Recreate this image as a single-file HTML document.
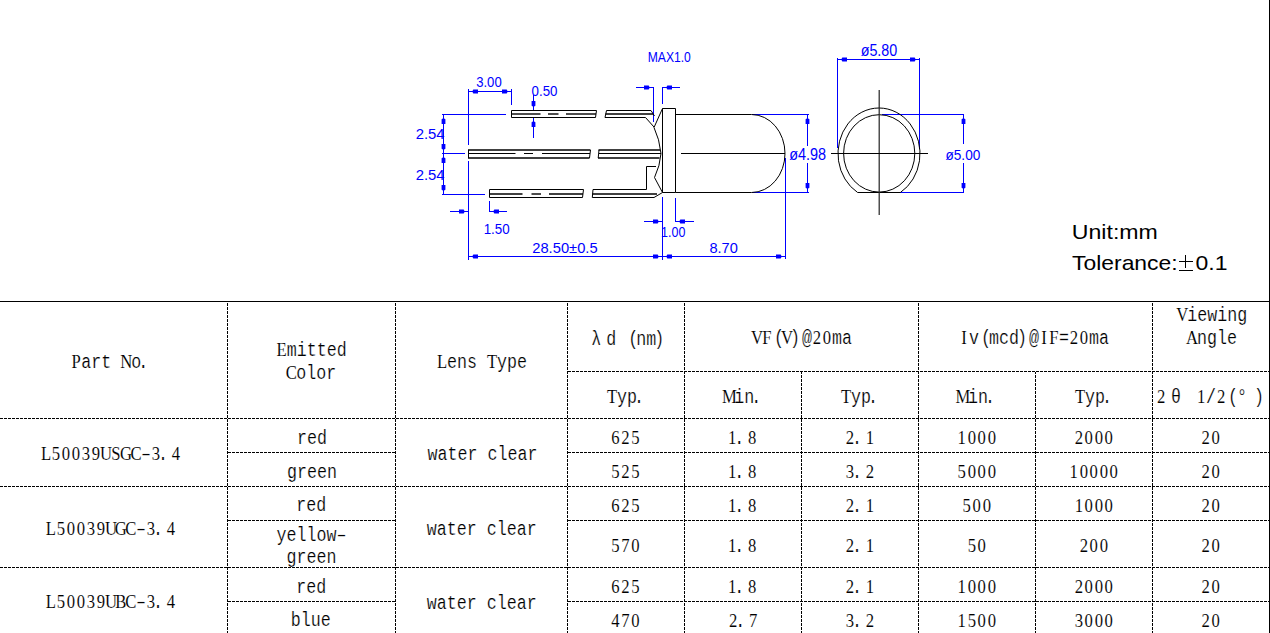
<!DOCTYPE html>
<html><head><meta charset="utf-8"><style>
html,body{margin:0;padding:0;background:#fff;width:1270px;height:633px;overflow:hidden}
svg{display:block}
</style></head><body>
<svg width="1270" height="633" viewBox="0 0 1270 633">
<line x1="0" y1="301.5" x2="1270" y2="301.5" stroke="#000" stroke-width="1" shape-rendering="crispEdges"/><line x1="1269.5" y1="0" x2="1269.5" y2="633" stroke="#000" stroke-width="1" shape-rendering="crispEdges"/><line x1="567" y1="371.5" x2="1269" y2="371.5" stroke="#000" stroke-width="1" stroke-dasharray="3 1" stroke-dashoffset="3" shape-rendering="crispEdges"/><line x1="0" y1="418.5" x2="1269" y2="418.5" stroke="#000" stroke-width="1" stroke-dasharray="3 1" stroke-dashoffset="0" shape-rendering="crispEdges"/><line x1="0" y1="486.5" x2="1269" y2="486.5" stroke="#000" stroke-width="1" stroke-dasharray="3 1" stroke-dashoffset="0" shape-rendering="crispEdges"/><line x1="0" y1="567.5" x2="1269" y2="567.5" stroke="#000" stroke-width="1" stroke-dasharray="3 1" stroke-dashoffset="0" shape-rendering="crispEdges"/><line x1="227" y1="452.5" x2="395" y2="452.5" stroke="#000" stroke-width="1" stroke-dasharray="3 1" stroke-dashoffset="3" shape-rendering="crispEdges"/><line x1="567" y1="452.5" x2="1269" y2="452.5" stroke="#000" stroke-width="1" stroke-dasharray="3 1" stroke-dashoffset="3" shape-rendering="crispEdges"/><line x1="227" y1="520.5" x2="395" y2="520.5" stroke="#000" stroke-width="1" stroke-dasharray="3 1" stroke-dashoffset="3" shape-rendering="crispEdges"/><line x1="567" y1="520.5" x2="1269" y2="520.5" stroke="#000" stroke-width="1" stroke-dasharray="3 1" stroke-dashoffset="3" shape-rendering="crispEdges"/><line x1="227" y1="601.5" x2="395" y2="601.5" stroke="#000" stroke-width="1" stroke-dasharray="3 1" stroke-dashoffset="3" shape-rendering="crispEdges"/><line x1="567" y1="601.5" x2="1269" y2="601.5" stroke="#000" stroke-width="1" stroke-dasharray="3 1" stroke-dashoffset="3" shape-rendering="crispEdges"/><line x1="227.5" y1="303" x2="227.5" y2="633" stroke="#000" stroke-width="1" stroke-dasharray="3 1" stroke-dashoffset="0" shape-rendering="crispEdges"/><line x1="395.5" y1="303" x2="395.5" y2="633" stroke="#000" stroke-width="1" stroke-dasharray="3 1" stroke-dashoffset="0" shape-rendering="crispEdges"/><line x1="567.5" y1="303" x2="567.5" y2="633" stroke="#000" stroke-width="1" stroke-dasharray="3 1" stroke-dashoffset="0" shape-rendering="crispEdges"/><line x1="684.5" y1="303" x2="684.5" y2="633" stroke="#000" stroke-width="1" stroke-dasharray="3 1" stroke-dashoffset="0" shape-rendering="crispEdges"/><line x1="801.5" y1="372" x2="801.5" y2="633" stroke="#000" stroke-width="1" stroke-dasharray="3 1" stroke-dashoffset="1" shape-rendering="crispEdges"/><line x1="918.5" y1="303" x2="918.5" y2="633" stroke="#000" stroke-width="1" stroke-dasharray="3 1" stroke-dashoffset="0" shape-rendering="crispEdges"/><line x1="1035.5" y1="372" x2="1035.5" y2="633" stroke="#000" stroke-width="1" stroke-dasharray="3 1" stroke-dashoffset="1" shape-rendering="crispEdges"/><line x1="1152.5" y1="303" x2="1152.5" y2="633" stroke="#000" stroke-width="1" stroke-dasharray="3 1" stroke-dashoffset="0" shape-rendering="crispEdges"/><line x1="468.5" y1="89" x2="468.5" y2="145" stroke="#0000ff" stroke-width="1"/><line x1="468.5" y1="161" x2="468.5" y2="260" stroke="#0000ff" stroke-width="1"/><line x1="468" y1="91.5" x2="511" y2="91.5" stroke="#0000ff" stroke-width="1"/><polygon points="468.5,91.5 472.5,92.1 473.3,93.4 478.0,93.4 478.0,89.6 473.3,89.6 472.5,90.9" fill="#0000ff"/><polygon points="511.5,91.5 507.5,92.1 506.7,93.4 502.0,93.4 502.0,89.6 506.7,89.6 507.5,90.9" fill="#0000ff"/><line x1="511.5" y1="89" x2="511.5" y2="105" stroke="#0000ff" stroke-width="1"/><line x1="442" y1="114.5" x2="506" y2="114.5" stroke="#0000ff" stroke-width="1"/><line x1="442" y1="153.5" x2="465" y2="153.5" stroke="#0000ff" stroke-width="1"/><line x1="442" y1="194.5" x2="485" y2="194.5" stroke="#0000ff" stroke-width="1"/><line x1="443.5" y1="114" x2="443.5" y2="194" stroke="#0000ff" stroke-width="1"/><polygon points="443.5,114.5 444.1,118.5 445.4,119.3 445.4,124.0 441.6,124.0 441.6,119.3 442.9,118.5" fill="#0000ff"/><polygon points="443.5,153.5 444.1,149.5 445.4,148.7 445.4,144.0 441.6,144.0 441.6,148.7 442.9,149.5" fill="#0000ff"/><polygon points="443.5,153.5 444.1,157.5 445.4,158.3 445.4,163.0 441.6,163.0 441.6,158.3 442.9,157.5" fill="#0000ff"/><polygon points="443.5,194.5 444.1,190.5 445.4,189.7 445.4,185.0 441.6,185.0 441.6,189.7 442.9,190.5" fill="#0000ff"/><line x1="450" y1="211.5" x2="468" y2="211.5" stroke="#0000ff" stroke-width="1"/><polygon points="468.5,211.5 464.5,212.1 463.7,213.4 459.0,213.4 459.0,209.6 463.7,209.6 464.5,210.9" fill="#0000ff"/><line x1="489.5" y1="201" x2="489.5" y2="212" stroke="#0000ff" stroke-width="1"/><line x1="489" y1="211.5" x2="507" y2="211.5" stroke="#0000ff" stroke-width="1"/><polygon points="489.5,211.5 493.5,212.1 494.3,213.4 499.0,213.4 499.0,209.6 494.3,209.6 493.5,210.9" fill="#0000ff"/><line x1="533.5" y1="95" x2="533.5" y2="110.5" stroke="#0000ff" stroke-width="1"/><polygon points="533.5,110.5 534.1,106.5 535.4,105.7 535.4,101.0 531.6,101.0 531.6,105.7 532.9,106.5" fill="#0000ff"/><line x1="533.5" y1="117.5" x2="533.5" y2="138" stroke="#0000ff" stroke-width="1"/><polygon points="533.5,117.5 534.1,121.5 535.4,122.3 535.4,127.0 531.6,127.0 531.6,122.3 532.9,121.5" fill="#0000ff"/><line x1="529" y1="110.5" x2="534" y2="110.5" stroke="#0000ff" stroke-width="1"/><line x1="529" y1="117.5" x2="534" y2="117.5" stroke="#0000ff" stroke-width="1"/><line x1="468" y1="256.5" x2="785.5" y2="256.5" stroke="#0000ff" stroke-width="1"/><polygon points="468.5,256.5 472.5,257.1 473.3,258.4 478.0,258.4 478.0,254.6 473.3,254.6 472.5,255.9" fill="#0000ff"/><polygon points="662.5,256.5 658.5,257.1 657.7,258.4 653.0,258.4 653.0,254.6 657.7,254.6 658.5,255.9" fill="#0000ff"/><polygon points="662.5,256.5 666.5,257.1 667.3,258.4 672.0,258.4 672.0,254.6 667.3,254.6 666.5,255.9" fill="#0000ff"/><polygon points="785.5,256.5 781.5,257.1 780.7,258.4 776.0,258.4 776.0,254.6 780.7,254.6 781.5,255.9" fill="#0000ff"/><line x1="636" y1="87.5" x2="653.5" y2="87.5" stroke="#0000ff" stroke-width="1"/><polygon points="653.5,87.5 649.5,88.1 648.7,89.4 644.0,89.4 644.0,85.6 648.7,85.6 649.5,86.9" fill="#0000ff"/><line x1="662.5" y1="87.5" x2="680" y2="87.5" stroke="#0000ff" stroke-width="1"/><polygon points="662.5,87.5 666.5,88.1 667.3,89.4 672.0,89.4 672.0,85.6 667.3,85.6 666.5,86.9" fill="#0000ff"/><line x1="653.5" y1="87" x2="653.5" y2="122" stroke="#0000ff" stroke-width="1"/><line x1="662.5" y1="87" x2="662.5" y2="104" stroke="#0000ff" stroke-width="1"/><line x1="644" y1="221.5" x2="662.5" y2="221.5" stroke="#0000ff" stroke-width="1"/><polygon points="662.5,221.5 658.5,222.1 657.7,223.4 653.0,223.4 653.0,219.6 657.7,219.6 658.5,220.9" fill="#0000ff"/><line x1="675.5" y1="221.5" x2="694" y2="221.5" stroke="#0000ff" stroke-width="1"/><polygon points="675.5,221.5 679.5,222.1 680.3,223.4 685.0,223.4 685.0,219.6 680.3,219.6 679.5,220.9" fill="#0000ff"/><line x1="662.5" y1="197" x2="662.5" y2="260" stroke="#0000ff" stroke-width="1"/><line x1="675.5" y1="198" x2="675.5" y2="222" stroke="#0000ff" stroke-width="1"/><line x1="785.5" y1="158" x2="785.5" y2="259" stroke="#0000ff" stroke-width="1"/><line x1="752" y1="114.5" x2="809" y2="114.5" stroke="#0000ff" stroke-width="1"/><line x1="752" y1="192.5" x2="809" y2="192.5" stroke="#0000ff" stroke-width="1"/><line x1="807.5" y1="114.5" x2="807.5" y2="146" stroke="#0000ff" stroke-width="1"/><line x1="807.5" y1="163" x2="807.5" y2="192.5" stroke="#0000ff" stroke-width="1"/><polygon points="807.5,114.5 808.1,118.5 809.4,119.3 809.4,124.0 805.6,124.0 805.6,119.3 806.9,118.5" fill="#0000ff"/><polygon points="807.5,192.5 808.1,188.5 809.4,187.7 809.4,183.0 805.6,183.0 805.6,187.7 806.9,188.5" fill="#0000ff"/><line x1="837.5" y1="59.5" x2="919.5" y2="59.5" stroke="#0000ff" stroke-width="1"/><polygon points="837.5,59.5 841.5,60.1 842.3,61.4 847.0,61.4 847.0,57.6 842.3,57.6 841.5,58.9" fill="#0000ff"/><polygon points="919.5,59.5 915.5,60.1 914.7,61.4 910.0,61.4 910.0,57.6 914.7,57.6 915.5,58.9" fill="#0000ff"/><line x1="837.5" y1="58" x2="837.5" y2="148" stroke="#0000ff" stroke-width="1"/><line x1="919.5" y1="58" x2="919.5" y2="149" stroke="#0000ff" stroke-width="1"/><line x1="882" y1="114.5" x2="964" y2="114.5" stroke="#0000ff" stroke-width="1"/><line x1="882" y1="192.5" x2="964" y2="192.5" stroke="#0000ff" stroke-width="1"/><line x1="963.5" y1="114.5" x2="963.5" y2="144" stroke="#0000ff" stroke-width="1"/><line x1="963.5" y1="163" x2="963.5" y2="192.5" stroke="#0000ff" stroke-width="1"/><polygon points="963.5,114.5 964.1,118.5 965.4,119.3 965.4,124.0 961.6,124.0 961.6,119.3 962.9,118.5" fill="#0000ff"/><polygon points="963.5,192.5 964.1,188.5 965.4,187.7 965.4,183.0 961.6,183.0 961.6,187.7 962.9,188.5" fill="#0000ff"/><path d="M511.5,110.5 H596.5 L595.5,117.5 H511.5 Z" stroke="#000" stroke-width="1" fill="none"/><line x1="511" y1="114" x2="540.5" y2="114" stroke="#000" stroke-width="1.4"/><line x1="548" y1="114" x2="558.5" y2="114" stroke="#000" stroke-width="1.4"/><line x1="566" y1="114" x2="596" y2="114" stroke="#000" stroke-width="1.4"/><line x1="468.0" y1="150" x2="590.5" y2="150" stroke="#000" stroke-width="1.4"/><line x1="468.0" y1="158" x2="589.5" y2="158" stroke="#000" stroke-width="1.4"/><path d="M468.5,150 L468.5,158 M590.5,150 L589.5,158" stroke="#000" stroke-width="1" fill="none"/><line x1="468" y1="153.5" x2="515.5" y2="153.5" stroke="#000" stroke-width="1"/><line x1="524" y1="153.5" x2="533" y2="153.5" stroke="#000" stroke-width="1"/><line x1="542" y1="153.5" x2="590" y2="153.5" stroke="#000" stroke-width="1"/><path d="M489.5,189.5 H583.5 L582.5,197.5 H489.5 Z" stroke="#000" stroke-width="1" fill="none"/><line x1="489" y1="194" x2="522.5" y2="194" stroke="#000" stroke-width="1.4"/><line x1="531.5" y1="194" x2="541" y2="194" stroke="#000" stroke-width="1.4"/><line x1="549" y1="194" x2="583" y2="194" stroke="#000" stroke-width="1.4"/><path d="M606.5,110.5 H651 L654.5,116" stroke="#000" stroke-width="1" fill="none"/><path d="M605,117.5 H645.5 L654,127" stroke="#000" stroke-width="1" fill="none"/><path d="M606.5,110.5 L605,117.5" stroke="#000" stroke-width="1" fill="none"/><line x1="605.5" y1="114" x2="653" y2="114" stroke="#000" stroke-width="1.4"/><line x1="598.5" y1="150" x2="660" y2="150" stroke="#000" stroke-width="1.4"/><line x1="598" y1="158" x2="659.5" y2="158" stroke="#000" stroke-width="1.4"/><path d="M599,150 L598.2,158" stroke="#000" stroke-width="1" fill="none"/><line x1="599" y1="153.5" x2="661" y2="153.5" stroke="#000" stroke-width="1"/><path d="M593,189.5 H646.5 V166.5 H656 M592.3,197.5 H654 L662.5,192.5 M593,189.5 L592.3,197.5" stroke="#000" stroke-width="1" fill="none"/><line x1="592.5" y1="194" x2="657" y2="194" stroke="#000" stroke-width="1.4"/><path d="M662.5,108.5 L654,127.5 Q659.5,139 661,153.5 Q660,166 654.5,177.5 L662.5,192.5" stroke="#000" stroke-width="1" fill="none"/><path d="M662.5,108.5 H675.5 V192.5 H662.5 Z" stroke="#000" stroke-width="1" fill="none"/><path d="M675.5,114.5 H751.6 A33.5,39 0 0 1 785,153.5 A33.5,39 0 0 1 751.6,192.5 H675.5" stroke="#000" stroke-width="1" fill="none"/><line x1="681" y1="153.5" x2="785" y2="153.5" stroke="#000" stroke-width="1"/><path d="M857.61,192.50 A41,45.6 0 1 1 900.39,192.50 Z" stroke="#000" stroke-width="1" fill="none"/><ellipse cx="879.2" cy="153.4" rx="35.6" ry="38.7" stroke="#000" fill="none" stroke-width="1"/><line x1="879.2" y1="90" x2="879.2" y2="215" stroke="#222" stroke-width="1.2"/><line x1="831" y1="153.5" x2="928" y2="153.5" stroke="#000" stroke-width="1"/><text transform="scale(0.8547,1)" y="368.00" font-family="Liberation Mono" font-size="19.50" fill="#000" stroke="#fff" stroke-width="0.2"><tspan x="83.73" font-family="Liberation Serif" stroke="#fff" stroke-width="0.1">P</tspan><tspan x="95.00">a</tspan><tspan x="106.70">r</tspan><tspan x="118.40">t</tspan><tspan x="140.61" font-family="Liberation Serif" stroke="#fff" stroke-width="0.1">N</tspan><tspan x="153.50">o</tspan><tspan x="161.69">.</tspan></text><text transform="scale(0.8547,1)" y="355.80" font-family="Liberation Mono" font-size="19.50" fill="#000" stroke="#fff" stroke-width="0.2"><tspan x="323.63" font-family="Liberation Serif" stroke="#fff" stroke-width="0.1">E</tspan><tspan x="335.44">m</tspan><tspan x="347.14">i</tspan><tspan x="358.84">t</tspan><tspan x="370.54">t</tspan><tspan x="382.24">e</tspan><tspan x="393.94">d</tspan></text><text transform="scale(0.8547,1)" y="378.80" font-family="Liberation Mono" font-size="19.50" fill="#000" stroke="#fff" stroke-width="0.2"><tspan x="334.20" font-family="Liberation Serif" stroke="#fff" stroke-width="0.1">C</tspan><tspan x="346.55">o</tspan><tspan x="358.25">l</tspan><tspan x="369.95">o</tspan><tspan x="381.65">r</tspan></text><text transform="scale(0.8547,1)" y="367.90" font-family="Liberation Mono" font-size="19.50" fill="#000" stroke="#fff" stroke-width="0.2"><tspan x="511.18" font-family="Liberation Serif" stroke="#fff" stroke-width="0.1">L</tspan><tspan x="522.99">e</tspan><tspan x="534.69">n</tspan><tspan x="546.39">s</tspan><tspan x="569.68" font-family="Liberation Serif" stroke="#fff" stroke-width="0.1">T</tspan><tspan x="581.49">y</tspan><tspan x="593.19">p</tspan><tspan x="604.89">e</tspan></text><text transform="scale(0.8547,1)" y="345.20" font-family="Liberation Mono" font-size="19.50" fill="#000" stroke="#fff" stroke-width="0.2"><tspan x="691.70">λ</tspan><tspan x="709.25">d</tspan><tspan x="734.99">(</tspan><tspan x="744.35">n</tspan><tspan x="756.05">m</tspan><tspan x="765.41">)</tspan></text><text transform="scale(0.8547,1)" y="344.10" font-family="Liberation Mono" font-size="19.50" fill="#000" stroke="#fff" stroke-width="0.2"><tspan x="878.65" font-family="Liberation Serif" stroke="#fff" stroke-width="0.1">V</tspan><tspan x="891.97" font-family="Liberation Serif" stroke="#fff" stroke-width="0.1">F</tspan><tspan x="905.58">(</tspan><tspan x="913.75" font-family="Liberation Serif" stroke="#fff" stroke-width="0.1">V</tspan><tspan x="924.30">)</tspan><tspan x="938.34">@</tspan><tspan x="951.01" font-family="Liberation Serif" stroke="#fff" stroke-width="0.1">2</tspan><tspan x="962.71" font-family="Liberation Serif" stroke="#fff" stroke-width="0.1">0</tspan><tspan x="973.44">m</tspan><tspan x="985.14">a</tspan></text><text transform="scale(0.8547,1)" y="344.20" font-family="Liberation Mono" font-size="19.50" fill="#000" stroke="#fff" stroke-width="0.2"><tspan x="1124.63" font-family="Liberation Serif" stroke="#fff" stroke-width="0.1">I</tspan><tspan x="1133.73">v</tspan><tspan x="1147.77">(</tspan><tspan x="1157.13">m</tspan><tspan x="1168.83">c</tspan><tspan x="1180.53">d</tspan><tspan x="1189.89">)</tspan><tspan x="1203.93">@</tspan><tspan x="1218.23" font-family="Liberation Serif" stroke="#fff" stroke-width="0.1">I</tspan><tspan x="1227.76" font-family="Liberation Serif" stroke="#fff" stroke-width="0.1">F</tspan><tspan x="1239.03">=</tspan><tspan x="1251.70" font-family="Liberation Serif" stroke="#fff" stroke-width="0.1">2</tspan><tspan x="1263.40" font-family="Liberation Serif" stroke="#fff" stroke-width="0.1">0</tspan><tspan x="1274.13">m</tspan><tspan x="1285.83">a</tspan></text><text transform="scale(0.8547,1)" y="321.30" font-family="Liberation Mono" font-size="19.50" fill="#000" stroke="#fff" stroke-width="0.2"><tspan x="1376.25" font-family="Liberation Serif" stroke="#fff" stroke-width="0.1">V</tspan><tspan x="1389.14">i</tspan><tspan x="1400.84">e</tspan><tspan x="1412.54">w</tspan><tspan x="1424.24">i</tspan><tspan x="1435.94">n</tspan><tspan x="1447.64">g</tspan></text><text transform="scale(0.8547,1)" y="343.70" font-family="Liberation Mono" font-size="19.50" fill="#000" stroke="#fff" stroke-width="0.2"><tspan x="1387.72" font-family="Liberation Serif" stroke="#fff" stroke-width="0.1">A</tspan><tspan x="1400.61">n</tspan><tspan x="1412.31">g</tspan><tspan x="1424.01">l</tspan><tspan x="1435.71">e</tspan></text><text transform="scale(0.8547,1)" y="403.10" font-family="Liberation Mono" font-size="19.50" fill="#000" stroke="#fff" stroke-width="0.2"><tspan x="710.08" font-family="Liberation Serif" stroke="#fff" stroke-width="0.1">T</tspan><tspan x="721.89">y</tspan><tspan x="733.59">p</tspan><tspan x="741.78">.</tspan></text><text transform="scale(0.8547,1)" y="402.80" font-family="Liberation Mono" font-size="19.50" fill="#000" stroke="#fff" stroke-width="0.2"><tspan x="844.61" font-family="Liberation Serif" stroke="#fff" stroke-width="0.1">M</tspan><tspan x="859.13">i</tspan><tspan x="870.83">n</tspan><tspan x="879.02">.</tspan></text><text transform="scale(0.8547,1)" y="403.10" font-family="Liberation Mono" font-size="19.50" fill="#000" stroke="#fff" stroke-width="0.2"><tspan x="983.98" font-family="Liberation Serif" stroke="#fff" stroke-width="0.1">T</tspan><tspan x="995.79">y</tspan><tspan x="1007.49">p</tspan><tspan x="1015.68">.</tspan></text><text transform="scale(0.8547,1)" y="402.80" font-family="Liberation Mono" font-size="19.50" fill="#000" stroke="#fff" stroke-width="0.2"><tspan x="1118.04" font-family="Liberation Serif" stroke="#fff" stroke-width="0.1">M</tspan><tspan x="1132.56">i</tspan><tspan x="1144.26">n</tspan><tspan x="1152.45">.</tspan></text><text transform="scale(0.8547,1)" y="403.10" font-family="Liberation Mono" font-size="19.50" fill="#000" stroke="#fff" stroke-width="0.2"><tspan x="1257.64" font-family="Liberation Serif" stroke="#fff" stroke-width="0.1">T</tspan><tspan x="1269.45">y</tspan><tspan x="1281.15">p</tspan><tspan x="1289.34">.</tspan></text><text transform="scale(0.8547,1)" y="403.00" font-family="Liberation Mono" font-size="19.50" fill="#000" stroke="#fff" stroke-width="0.2"><tspan x="1353.61" font-family="Liberation Serif" stroke="#fff" stroke-width="0.1">2</tspan><tspan x="1370.19">θ</tspan><tspan x="1400.41" font-family="Liberation Serif" stroke="#fff" stroke-width="0.1">1</tspan><tspan x="1411.14">/</tspan><tspan x="1423.81" font-family="Liberation Serif" stroke="#fff" stroke-width="0.1">2</tspan><tspan x="1436.88">(</tspan><tspan x="1447.41">°</tspan><tspan x="1467.30">)</tspan></text><text transform="scale(0.8547,1)" y="459.70" font-family="Liberation Mono" font-size="19.50" fill="#000" stroke="#fff" stroke-width="0.2"><tspan x="47.86" font-family="Liberation Serif" stroke="#fff" stroke-width="0.1">L</tspan><tspan x="60.64" font-family="Liberation Serif" stroke="#fff" stroke-width="0.1">5</tspan><tspan x="72.34" font-family="Liberation Serif" stroke="#fff" stroke-width="0.1">0</tspan><tspan x="84.04" font-family="Liberation Serif" stroke="#fff" stroke-width="0.1">0</tspan><tspan x="95.74" font-family="Liberation Serif" stroke="#fff" stroke-width="0.1">3</tspan><tspan x="107.44" font-family="Liberation Serif" stroke="#fff" stroke-width="0.1">9</tspan><tspan x="116.98" font-family="Liberation Serif" stroke="#fff" stroke-width="0.1">U</tspan><tspan x="130.30" font-family="Liberation Serif" stroke="#fff" stroke-width="0.1">S</tspan><tspan x="140.38" font-family="Liberation Serif" stroke="#fff" stroke-width="0.1">G</tspan><tspan x="152.62" font-family="Liberation Serif" stroke="#fff" stroke-width="0.1">C</tspan><tspan x="164.97">–</tspan><tspan x="177.65" font-family="Liberation Serif" stroke="#fff" stroke-width="0.1">3</tspan><tspan x="184.86">.</tspan><tspan x="201.04" font-family="Liberation Serif" stroke="#fff" stroke-width="0.1">4</tspan></text><text transform="scale(0.8547,1)" y="535.10" font-family="Liberation Mono" font-size="19.50" fill="#000" stroke="#fff" stroke-width="0.2"><tspan x="53.60" font-family="Liberation Serif" stroke="#fff" stroke-width="0.1">L</tspan><tspan x="66.38" font-family="Liberation Serif" stroke="#fff" stroke-width="0.1">5</tspan><tspan x="78.08" font-family="Liberation Serif" stroke="#fff" stroke-width="0.1">0</tspan><tspan x="89.78" font-family="Liberation Serif" stroke="#fff" stroke-width="0.1">0</tspan><tspan x="101.48" font-family="Liberation Serif" stroke="#fff" stroke-width="0.1">3</tspan><tspan x="113.18" font-family="Liberation Serif" stroke="#fff" stroke-width="0.1">9</tspan><tspan x="122.71" font-family="Liberation Serif" stroke="#fff" stroke-width="0.1">U</tspan><tspan x="134.41" font-family="Liberation Serif" stroke="#fff" stroke-width="0.1">G</tspan><tspan x="146.65" font-family="Liberation Serif" stroke="#fff" stroke-width="0.1">C</tspan><tspan x="159.00">–</tspan><tspan x="171.68" font-family="Liberation Serif" stroke="#fff" stroke-width="0.1">3</tspan><tspan x="178.89">.</tspan><tspan x="195.08" font-family="Liberation Serif" stroke="#fff" stroke-width="0.1">4</tspan></text><text transform="scale(0.8547,1)" y="608.50" font-family="Liberation Mono" font-size="19.50" fill="#000" stroke="#fff" stroke-width="0.2"><tspan x="53.60" font-family="Liberation Serif" stroke="#fff" stroke-width="0.1">L</tspan><tspan x="66.38" font-family="Liberation Serif" stroke="#fff" stroke-width="0.1">5</tspan><tspan x="78.08" font-family="Liberation Serif" stroke="#fff" stroke-width="0.1">0</tspan><tspan x="89.78" font-family="Liberation Serif" stroke="#fff" stroke-width="0.1">0</tspan><tspan x="101.48" font-family="Liberation Serif" stroke="#fff" stroke-width="0.1">3</tspan><tspan x="113.18" font-family="Liberation Serif" stroke="#fff" stroke-width="0.1">9</tspan><tspan x="122.71" font-family="Liberation Serif" stroke="#fff" stroke-width="0.1">U</tspan><tspan x="134.95" font-family="Liberation Serif" stroke="#fff" stroke-width="0.1">B</tspan><tspan x="146.65" font-family="Liberation Serif" stroke="#fff" stroke-width="0.1">C</tspan><tspan x="159.00">–</tspan><tspan x="171.68" font-family="Liberation Serif" stroke="#fff" stroke-width="0.1">3</tspan><tspan x="178.89">.</tspan><tspan x="195.08" font-family="Liberation Serif" stroke="#fff" stroke-width="0.1">4</tspan></text><text transform="scale(0.8547,1)" y="459.80" font-family="Liberation Mono" font-size="19.50" fill="#000" stroke="#fff" stroke-width="0.2"><tspan x="500.06">w</tspan><tspan x="511.76">a</tspan><tspan x="523.46">t</tspan><tspan x="535.16">e</tspan><tspan x="546.86">r</tspan><tspan x="570.26">c</tspan><tspan x="581.96">l</tspan><tspan x="593.66">e</tspan><tspan x="605.36">a</tspan><tspan x="617.06">r</tspan></text><text transform="scale(0.8547,1)" y="534.70" font-family="Liberation Mono" font-size="19.50" fill="#000" stroke="#fff" stroke-width="0.2"><tspan x="499.24">w</tspan><tspan x="510.94">a</tspan><tspan x="522.64">t</tspan><tspan x="534.34">e</tspan><tspan x="546.04">r</tspan><tspan x="569.44">c</tspan><tspan x="581.14">l</tspan><tspan x="592.84">e</tspan><tspan x="604.54">a</tspan><tspan x="616.24">r</tspan></text><text transform="scale(0.8547,1)" y="608.60" font-family="Liberation Mono" font-size="19.50" fill="#000" stroke="#fff" stroke-width="0.2"><tspan x="499.24">w</tspan><tspan x="510.94">a</tspan><tspan x="522.64">t</tspan><tspan x="534.34">e</tspan><tspan x="546.04">r</tspan><tspan x="569.44">c</tspan><tspan x="581.14">l</tspan><tspan x="592.84">e</tspan><tspan x="604.54">a</tspan><tspan x="616.24">r</tspan></text><text transform="scale(0.8547,1)" y="443.70" font-family="Liberation Mono" font-size="19.50" fill="#000" stroke="#fff" stroke-width="0.2"><tspan x="347.49">r</tspan><tspan x="359.19">e</tspan><tspan x="370.89">d</tspan></text><text transform="scale(0.8547,1)" y="477.90" font-family="Liberation Mono" font-size="19.50" fill="#000" stroke="#fff" stroke-width="0.2"><tspan x="335.91">g</tspan><tspan x="347.61">r</tspan><tspan x="359.31">e</tspan><tspan x="371.01">e</tspan><tspan x="382.71">n</tspan></text><text transform="scale(0.8547,1)" y="511.50" font-family="Liberation Mono" font-size="19.50" fill="#000" stroke="#fff" stroke-width="0.2"><tspan x="346.67">r</tspan><tspan x="358.37">e</tspan><tspan x="370.07">d</tspan></text><text transform="scale(0.8547,1)" y="540.80" font-family="Liberation Mono" font-size="19.50" fill="#000" stroke="#fff" stroke-width="0.2"><tspan x="323.50">y</tspan><tspan x="335.20">e</tspan><tspan x="346.90">l</tspan><tspan x="358.60">l</tspan><tspan x="370.30">o</tspan><tspan x="382.00">w</tspan><tspan x="393.70">–</tspan></text><text transform="scale(0.8547,1)" y="562.80" font-family="Liberation Mono" font-size="19.50" fill="#000" stroke="#fff" stroke-width="0.2"><tspan x="335.20">g</tspan><tspan x="346.90">r</tspan><tspan x="358.60">e</tspan><tspan x="370.30">e</tspan><tspan x="382.00">n</tspan></text><text transform="scale(0.8547,1)" y="592.80" font-family="Liberation Mono" font-size="19.50" fill="#000" stroke="#fff" stroke-width="0.2"><tspan x="346.67">r</tspan><tspan x="358.37">e</tspan><tspan x="370.07">d</tspan></text><text transform="scale(0.8547,1)" y="625.60" font-family="Liberation Mono" font-size="19.50" fill="#000" stroke="#fff" stroke-width="0.2"><tspan x="340.12">b</tspan><tspan x="351.82">l</tspan><tspan x="363.52">u</tspan><tspan x="375.22">e</tspan></text><text transform="scale(0.8547,1)" y="444.20" font-family="Liberation Mono" font-size="19.50" fill="#000" stroke="#fff" stroke-width="0.2"><tspan x="715.26" font-family="Liberation Serif" stroke="#fff" stroke-width="0.1">6</tspan><tspan x="726.96" font-family="Liberation Serif" stroke="#fff" stroke-width="0.1">2</tspan><tspan x="738.66" font-family="Liberation Serif" stroke="#fff" stroke-width="0.1">5</tspan></text><text transform="scale(0.8547,1)" y="444.20" font-family="Liberation Mono" font-size="19.50" fill="#000" stroke="#fff" stroke-width="0.2"><tspan x="1120.43" font-family="Liberation Serif" stroke="#fff" stroke-width="0.1">1</tspan><tspan x="1132.13" font-family="Liberation Serif" stroke="#fff" stroke-width="0.1">0</tspan><tspan x="1143.83" font-family="Liberation Serif" stroke="#fff" stroke-width="0.1">0</tspan><tspan x="1155.53" font-family="Liberation Serif" stroke="#fff" stroke-width="0.1">0</tspan></text><text transform="scale(0.8547,1)" y="444.20" font-family="Liberation Mono" font-size="19.50" fill="#000" stroke="#fff" stroke-width="0.2"><tspan x="1257.32" font-family="Liberation Serif" stroke="#fff" stroke-width="0.1">2</tspan><tspan x="1269.02" font-family="Liberation Serif" stroke="#fff" stroke-width="0.1">0</tspan><tspan x="1280.72" font-family="Liberation Serif" stroke="#fff" stroke-width="0.1">0</tspan><tspan x="1292.42" font-family="Liberation Serif" stroke="#fff" stroke-width="0.1">0</tspan></text><text transform="scale(0.8547,1)" y="444.20" font-family="Liberation Mono" font-size="19.50" fill="#000" stroke="#fff" stroke-width="0.2"><tspan x="1405.91" font-family="Liberation Serif" stroke="#fff" stroke-width="0.1">2</tspan><tspan x="1417.61" font-family="Liberation Serif" stroke="#fff" stroke-width="0.1">0</tspan></text><text transform="scale(0.8547,1)" y="444.20" font-family="Liberation Mono" font-size="19.50" fill="#000" stroke="#fff" stroke-width="0.2"><tspan x="851.80" font-family="Liberation Serif" stroke="#fff" stroke-width="0.1">1</tspan><tspan x="859.01">.</tspan><tspan x="875.20" font-family="Liberation Serif" stroke="#fff" stroke-width="0.1">8</tspan></text><text transform="scale(0.8547,1)" y="444.20" font-family="Liberation Mono" font-size="19.50" fill="#000" stroke="#fff" stroke-width="0.2"><tspan x="989.51" font-family="Liberation Serif" stroke="#fff" stroke-width="0.1">2</tspan><tspan x="996.72">.</tspan><tspan x="1012.91" font-family="Liberation Serif" stroke="#fff" stroke-width="0.1">1</tspan></text><text transform="scale(0.8547,1)" y="477.90" font-family="Liberation Mono" font-size="19.50" fill="#000" stroke="#fff" stroke-width="0.2"><tspan x="715.26" font-family="Liberation Serif" stroke="#fff" stroke-width="0.1">5</tspan><tspan x="726.96" font-family="Liberation Serif" stroke="#fff" stroke-width="0.1">2</tspan><tspan x="738.66" font-family="Liberation Serif" stroke="#fff" stroke-width="0.1">5</tspan></text><text transform="scale(0.8547,1)" y="477.90" font-family="Liberation Mono" font-size="19.50" fill="#000" stroke="#fff" stroke-width="0.2"><tspan x="1120.43" font-family="Liberation Serif" stroke="#fff" stroke-width="0.1">5</tspan><tspan x="1132.13" font-family="Liberation Serif" stroke="#fff" stroke-width="0.1">0</tspan><tspan x="1143.83" font-family="Liberation Serif" stroke="#fff" stroke-width="0.1">0</tspan><tspan x="1155.53" font-family="Liberation Serif" stroke="#fff" stroke-width="0.1">0</tspan></text><text transform="scale(0.8547,1)" y="477.90" font-family="Liberation Mono" font-size="19.50" fill="#000" stroke="#fff" stroke-width="0.2"><tspan x="1251.47" font-family="Liberation Serif" stroke="#fff" stroke-width="0.1">1</tspan><tspan x="1263.17" font-family="Liberation Serif" stroke="#fff" stroke-width="0.1">0</tspan><tspan x="1274.87" font-family="Liberation Serif" stroke="#fff" stroke-width="0.1">0</tspan><tspan x="1286.57" font-family="Liberation Serif" stroke="#fff" stroke-width="0.1">0</tspan><tspan x="1298.27" font-family="Liberation Serif" stroke="#fff" stroke-width="0.1">0</tspan></text><text transform="scale(0.8547,1)" y="477.90" font-family="Liberation Mono" font-size="19.50" fill="#000" stroke="#fff" stroke-width="0.2"><tspan x="1405.91" font-family="Liberation Serif" stroke="#fff" stroke-width="0.1">2</tspan><tspan x="1417.61" font-family="Liberation Serif" stroke="#fff" stroke-width="0.1">0</tspan></text><text transform="scale(0.8547,1)" y="477.90" font-family="Liberation Mono" font-size="19.50" fill="#000" stroke="#fff" stroke-width="0.2"><tspan x="851.80" font-family="Liberation Serif" stroke="#fff" stroke-width="0.1">1</tspan><tspan x="859.01">.</tspan><tspan x="875.20" font-family="Liberation Serif" stroke="#fff" stroke-width="0.1">8</tspan></text><text transform="scale(0.8547,1)" y="477.90" font-family="Liberation Mono" font-size="19.50" fill="#000" stroke="#fff" stroke-width="0.2"><tspan x="989.51" font-family="Liberation Serif" stroke="#fff" stroke-width="0.1">3</tspan><tspan x="996.72">.</tspan><tspan x="1012.91" font-family="Liberation Serif" stroke="#fff" stroke-width="0.1">2</tspan></text><text transform="scale(0.8547,1)" y="512.50" font-family="Liberation Mono" font-size="19.50" fill="#000" stroke="#fff" stroke-width="0.2"><tspan x="715.26" font-family="Liberation Serif" stroke="#fff" stroke-width="0.1">6</tspan><tspan x="726.96" font-family="Liberation Serif" stroke="#fff" stroke-width="0.1">2</tspan><tspan x="738.66" font-family="Liberation Serif" stroke="#fff" stroke-width="0.1">5</tspan></text><text transform="scale(0.8547,1)" y="512.50" font-family="Liberation Mono" font-size="19.50" fill="#000" stroke="#fff" stroke-width="0.2"><tspan x="1126.28" font-family="Liberation Serif" stroke="#fff" stroke-width="0.1">5</tspan><tspan x="1137.98" font-family="Liberation Serif" stroke="#fff" stroke-width="0.1">0</tspan><tspan x="1149.68" font-family="Liberation Serif" stroke="#fff" stroke-width="0.1">0</tspan></text><text transform="scale(0.8547,1)" y="512.50" font-family="Liberation Mono" font-size="19.50" fill="#000" stroke="#fff" stroke-width="0.2"><tspan x="1257.32" font-family="Liberation Serif" stroke="#fff" stroke-width="0.1">1</tspan><tspan x="1269.02" font-family="Liberation Serif" stroke="#fff" stroke-width="0.1">0</tspan><tspan x="1280.72" font-family="Liberation Serif" stroke="#fff" stroke-width="0.1">0</tspan><tspan x="1292.42" font-family="Liberation Serif" stroke="#fff" stroke-width="0.1">0</tspan></text><text transform="scale(0.8547,1)" y="512.50" font-family="Liberation Mono" font-size="19.50" fill="#000" stroke="#fff" stroke-width="0.2"><tspan x="1405.91" font-family="Liberation Serif" stroke="#fff" stroke-width="0.1">2</tspan><tspan x="1417.61" font-family="Liberation Serif" stroke="#fff" stroke-width="0.1">0</tspan></text><text transform="scale(0.8547,1)" y="512.50" font-family="Liberation Mono" font-size="19.50" fill="#000" stroke="#fff" stroke-width="0.2"><tspan x="851.80" font-family="Liberation Serif" stroke="#fff" stroke-width="0.1">1</tspan><tspan x="859.01">.</tspan><tspan x="875.20" font-family="Liberation Serif" stroke="#fff" stroke-width="0.1">8</tspan></text><text transform="scale(0.8547,1)" y="512.50" font-family="Liberation Mono" font-size="19.50" fill="#000" stroke="#fff" stroke-width="0.2"><tspan x="989.51" font-family="Liberation Serif" stroke="#fff" stroke-width="0.1">2</tspan><tspan x="996.72">.</tspan><tspan x="1012.91" font-family="Liberation Serif" stroke="#fff" stroke-width="0.1">1</tspan></text><text transform="scale(0.8547,1)" y="552.20" font-family="Liberation Mono" font-size="19.50" fill="#000" stroke="#fff" stroke-width="0.2"><tspan x="715.26" font-family="Liberation Serif" stroke="#fff" stroke-width="0.1">5</tspan><tspan x="726.96" font-family="Liberation Serif" stroke="#fff" stroke-width="0.1">7</tspan><tspan x="738.66" font-family="Liberation Serif" stroke="#fff" stroke-width="0.1">0</tspan></text><text transform="scale(0.8547,1)" y="552.20" font-family="Liberation Mono" font-size="19.50" fill="#000" stroke="#fff" stroke-width="0.2"><tspan x="1132.13" font-family="Liberation Serif" stroke="#fff" stroke-width="0.1">5</tspan><tspan x="1143.83" font-family="Liberation Serif" stroke="#fff" stroke-width="0.1">0</tspan></text><text transform="scale(0.8547,1)" y="552.20" font-family="Liberation Mono" font-size="19.50" fill="#000" stroke="#fff" stroke-width="0.2"><tspan x="1263.17" font-family="Liberation Serif" stroke="#fff" stroke-width="0.1">2</tspan><tspan x="1274.87" font-family="Liberation Serif" stroke="#fff" stroke-width="0.1">0</tspan><tspan x="1286.57" font-family="Liberation Serif" stroke="#fff" stroke-width="0.1">0</tspan></text><text transform="scale(0.8547,1)" y="552.20" font-family="Liberation Mono" font-size="19.50" fill="#000" stroke="#fff" stroke-width="0.2"><tspan x="1405.91" font-family="Liberation Serif" stroke="#fff" stroke-width="0.1">2</tspan><tspan x="1417.61" font-family="Liberation Serif" stroke="#fff" stroke-width="0.1">0</tspan></text><text transform="scale(0.8547,1)" y="552.20" font-family="Liberation Mono" font-size="19.50" fill="#000" stroke="#fff" stroke-width="0.2"><tspan x="851.80" font-family="Liberation Serif" stroke="#fff" stroke-width="0.1">1</tspan><tspan x="859.01">.</tspan><tspan x="875.20" font-family="Liberation Serif" stroke="#fff" stroke-width="0.1">8</tspan></text><text transform="scale(0.8547,1)" y="552.20" font-family="Liberation Mono" font-size="19.50" fill="#000" stroke="#fff" stroke-width="0.2"><tspan x="989.51" font-family="Liberation Serif" stroke="#fff" stroke-width="0.1">2</tspan><tspan x="996.72">.</tspan><tspan x="1012.91" font-family="Liberation Serif" stroke="#fff" stroke-width="0.1">1</tspan></text><text transform="scale(0.8547,1)" y="593.30" font-family="Liberation Mono" font-size="19.50" fill="#000" stroke="#fff" stroke-width="0.2"><tspan x="715.26" font-family="Liberation Serif" stroke="#fff" stroke-width="0.1">6</tspan><tspan x="726.96" font-family="Liberation Serif" stroke="#fff" stroke-width="0.1">2</tspan><tspan x="738.66" font-family="Liberation Serif" stroke="#fff" stroke-width="0.1">5</tspan></text><text transform="scale(0.8547,1)" y="593.30" font-family="Liberation Mono" font-size="19.50" fill="#000" stroke="#fff" stroke-width="0.2"><tspan x="1120.43" font-family="Liberation Serif" stroke="#fff" stroke-width="0.1">1</tspan><tspan x="1132.13" font-family="Liberation Serif" stroke="#fff" stroke-width="0.1">0</tspan><tspan x="1143.83" font-family="Liberation Serif" stroke="#fff" stroke-width="0.1">0</tspan><tspan x="1155.53" font-family="Liberation Serif" stroke="#fff" stroke-width="0.1">0</tspan></text><text transform="scale(0.8547,1)" y="593.30" font-family="Liberation Mono" font-size="19.50" fill="#000" stroke="#fff" stroke-width="0.2"><tspan x="1257.32" font-family="Liberation Serif" stroke="#fff" stroke-width="0.1">2</tspan><tspan x="1269.02" font-family="Liberation Serif" stroke="#fff" stroke-width="0.1">0</tspan><tspan x="1280.72" font-family="Liberation Serif" stroke="#fff" stroke-width="0.1">0</tspan><tspan x="1292.42" font-family="Liberation Serif" stroke="#fff" stroke-width="0.1">0</tspan></text><text transform="scale(0.8547,1)" y="593.30" font-family="Liberation Mono" font-size="19.50" fill="#000" stroke="#fff" stroke-width="0.2"><tspan x="1405.91" font-family="Liberation Serif" stroke="#fff" stroke-width="0.1">2</tspan><tspan x="1417.61" font-family="Liberation Serif" stroke="#fff" stroke-width="0.1">0</tspan></text><text transform="scale(0.8547,1)" y="593.30" font-family="Liberation Mono" font-size="19.50" fill="#000" stroke="#fff" stroke-width="0.2"><tspan x="851.80" font-family="Liberation Serif" stroke="#fff" stroke-width="0.1">1</tspan><tspan x="859.01">.</tspan><tspan x="875.20" font-family="Liberation Serif" stroke="#fff" stroke-width="0.1">8</tspan></text><text transform="scale(0.8547,1)" y="593.30" font-family="Liberation Mono" font-size="19.50" fill="#000" stroke="#fff" stroke-width="0.2"><tspan x="989.51" font-family="Liberation Serif" stroke="#fff" stroke-width="0.1">2</tspan><tspan x="996.72">.</tspan><tspan x="1012.91" font-family="Liberation Serif" stroke="#fff" stroke-width="0.1">1</tspan></text><text transform="scale(0.8547,1)" y="627.00" font-family="Liberation Mono" font-size="19.50" fill="#000" stroke="#fff" stroke-width="0.2"><tspan x="715.26" font-family="Liberation Serif" stroke="#fff" stroke-width="0.1">4</tspan><tspan x="726.96" font-family="Liberation Serif" stroke="#fff" stroke-width="0.1">7</tspan><tspan x="738.66" font-family="Liberation Serif" stroke="#fff" stroke-width="0.1">0</tspan></text><text transform="scale(0.8547,1)" y="627.00" font-family="Liberation Mono" font-size="19.50" fill="#000" stroke="#fff" stroke-width="0.2"><tspan x="1120.43" font-family="Liberation Serif" stroke="#fff" stroke-width="0.1">1</tspan><tspan x="1132.13" font-family="Liberation Serif" stroke="#fff" stroke-width="0.1">5</tspan><tspan x="1143.83" font-family="Liberation Serif" stroke="#fff" stroke-width="0.1">0</tspan><tspan x="1155.53" font-family="Liberation Serif" stroke="#fff" stroke-width="0.1">0</tspan></text><text transform="scale(0.8547,1)" y="627.00" font-family="Liberation Mono" font-size="19.50" fill="#000" stroke="#fff" stroke-width="0.2"><tspan x="1257.32" font-family="Liberation Serif" stroke="#fff" stroke-width="0.1">3</tspan><tspan x="1269.02" font-family="Liberation Serif" stroke="#fff" stroke-width="0.1">0</tspan><tspan x="1280.72" font-family="Liberation Serif" stroke="#fff" stroke-width="0.1">0</tspan><tspan x="1292.42" font-family="Liberation Serif" stroke="#fff" stroke-width="0.1">0</tspan></text><text transform="scale(0.8547,1)" y="627.00" font-family="Liberation Mono" font-size="19.50" fill="#000" stroke="#fff" stroke-width="0.2"><tspan x="1405.91" font-family="Liberation Serif" stroke="#fff" stroke-width="0.1">2</tspan><tspan x="1417.61" font-family="Liberation Serif" stroke="#fff" stroke-width="0.1">0</tspan></text><text transform="scale(0.8547,1)" y="627.00" font-family="Liberation Mono" font-size="19.50" fill="#000" stroke="#fff" stroke-width="0.2"><tspan x="852.97" font-family="Liberation Serif" stroke="#fff" stroke-width="0.1">2</tspan><tspan x="860.18">.</tspan><tspan x="876.37" font-family="Liberation Serif" stroke="#fff" stroke-width="0.1">7</tspan></text><text transform="scale(0.8547,1)" y="627.00" font-family="Liberation Mono" font-size="19.50" fill="#000" stroke="#fff" stroke-width="0.2"><tspan x="989.51" font-family="Liberation Serif" stroke="#fff" stroke-width="0.1">3</tspan><tspan x="996.72">.</tspan><tspan x="1012.91" font-family="Liberation Serif" stroke="#fff" stroke-width="0.1">2</tspan></text><text x="1071.77" y="238.80" font-family="Liberation Sans" font-size="20.14" fill="#000" textLength="86.07" lengthAdjust="spacingAndGlyphs">Unit:mm</text><text x="1072.04" y="269.60" font-family="Liberation Sans" font-size="19.59" fill="#000" textLength="105.61" lengthAdjust="spacingAndGlyphs">Tolerance:</text><text x="1195.58" y="269.60" font-family="Liberation Sans" font-size="20.29" fill="#000" textLength="31.96" lengthAdjust="spacingAndGlyphs">0.1</text><text x="476.18" y="86.80" font-family="Liberation Sans" font-size="14.86" fill="#0000ff" textLength="25.50" lengthAdjust="spacingAndGlyphs">3.00</text><text x="531.57" y="95.70" font-family="Liberation Sans" font-size="15.29" fill="#0000ff" textLength="25.92" lengthAdjust="spacingAndGlyphs">0.50</text><text x="415.66" y="138.80" font-family="Liberation Sans" font-size="14.43" fill="#0000ff" textLength="28.93" lengthAdjust="spacingAndGlyphs">2.54</text><text x="415.66" y="179.50" font-family="Liberation Sans" font-size="15.43" fill="#0000ff" textLength="28.93" lengthAdjust="spacingAndGlyphs">2.54</text><text x="483.70" y="234.00" font-family="Liberation Sans" font-size="14.00" fill="#0000ff" textLength="25.99" lengthAdjust="spacingAndGlyphs">1.50</text><text x="532.26" y="252.50" font-family="Liberation Sans" font-size="15.00" fill="#0000ff" textLength="65.35" lengthAdjust="spacingAndGlyphs">28.50±0.5</text><text x="647.73" y="61.50" font-family="Liberation Sans" font-size="15.43" fill="#0000ff" textLength="43.12" lengthAdjust="spacingAndGlyphs">MAX1.0</text><text x="661.06" y="236.50" font-family="Liberation Sans" font-size="15.00" fill="#0000ff" textLength="24.29" lengthAdjust="spacingAndGlyphs">1.00</text><text x="709.44" y="252.60" font-family="Liberation Sans" font-size="14.57" fill="#0000ff" textLength="28.39" lengthAdjust="spacingAndGlyphs">8.70</text><text x="789.14" y="159.70" font-family="Liberation Sans" font-size="16.43" fill="#0000ff" textLength="36.97" lengthAdjust="spacingAndGlyphs">ø4.98</text><text x="860.64" y="55.60" font-family="Liberation Sans" font-size="15.86" fill="#0000ff" textLength="36.69" lengthAdjust="spacingAndGlyphs">ø5.80</text><text x="945.46" y="159.70" font-family="Liberation Sans" font-size="15.29" fill="#0000ff" textLength="34.85" lengthAdjust="spacingAndGlyphs">ø5.00</text><line x1="1179" y1="270.5" x2="1193" y2="270.5" stroke="#000" stroke-width="1"/><line x1="1185.5" y1="255" x2="1185.5" y2="268" stroke="#000" stroke-width="1"/><line x1="1179" y1="261.5" x2="1193" y2="261.5" stroke="#000" stroke-width="1"/>
</svg>
</body></html>
